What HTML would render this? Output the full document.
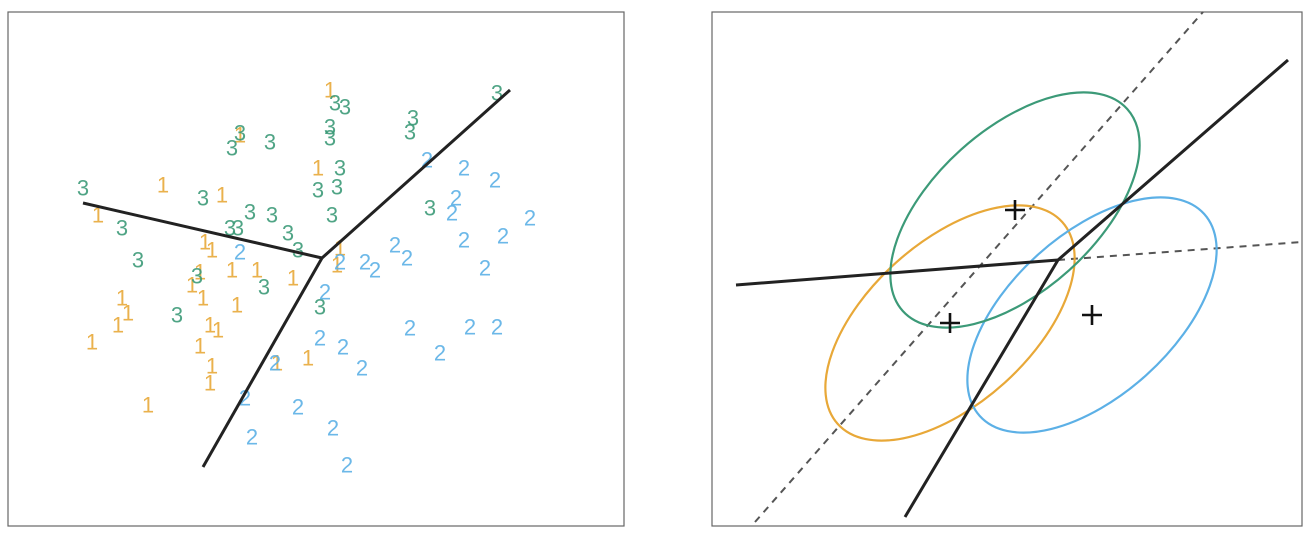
<!DOCTYPE html>
<html><head><meta charset="utf-8"><style>
html,body{margin:0;padding:0;background:#fff;}
svg{display:block;font-family:"Liberation Sans",sans-serif;}
</style></head><body>
<svg id="fig" width="1312" height="536" viewBox="0 0 1312 536">
<rect x="8" y="12" width="616" height="514" fill="#fff" stroke="#666" stroke-width="1.2"/>
<rect x="712" y="12" width="590" height="514" fill="#fff" stroke="#666" stroke-width="1.2"/>
<g id="left"></g>
<g id="right"></g>
</svg>
<script>
// Left panel data
const class1X=[32.2,23.2,15.5,21.4,9.0,31.0,19.7,20.4,22.4,24.9,28.5,19.2,18.4,19.5,11.4,12.0,11.0,8.4,22.9,20.2,21.0,19.2,20.4,20.2,14.0,26.9,30.0,32.9,33.2];
const class1Y=[43.6,39.1,34.1,33.1,31.1,35.8,28.4,27.6,25.6,25.6,24.8,25.4,24.1,22.8,22.8,21.3,20.1,18.4,22.1,20.1,19.6,18.0,16.0,14.3,12.1,16.3,16.8,26.1,27.8];
const class3X=[32.7,33.7,23.2,22.4,26.2,32.2,32.2,33.2,31.0,32.9,32.4,40.5,40.2,48.9,7.5,19.5,11.4,24.2,26.4,22.2,23.0,28.0,29.0,13.0,18.9,25.6,16.9,31.2,42.2];
const class3Y=[42.3,41.9,39.3,37.8,38.4,39.9,38.8,35.8,33.6,33.9,31.1,40.8,39.4,43.3,33.8,32.8,29.8,31.4,31.1,29.8,29.8,29.3,27.6,26.6,25.0,23.9,21.1,21.9,31.8];
const class2X=[41.9,45.6,48.7,44.8,44.4,52.2,49.5,45.6,47.7,38.7,39.9,35.7,36.7,23.2,33.2,31.7,31.2,33.5,35.4,40.2,46.2,48.9,43.2,26.7,23.7,29.0,24.4,32.5,33.9];
const class2Y=[36.6,35.8,34.6,32.8,31.3,30.8,29.0,28.6,25.8,28.1,26.8,26.4,25.6,27.4,26.4,23.4,18.8,17.9,15.8,19.8,19.9,19.9,17.3,16.3,12.8,11.9,8.9,9.8,6.1];
const leftJunction=[31.4,26.8];
const leftEnds=[[7.5,32.3],[50.2,43.6],[19.5,5.9]];
// Right panel data
const rightJunction=[34.6,26.6];
const rightEnds=[[2.4,24.1],[57.6,46.6],[19.3,0.9]];
const dashedA=[[4.3,0.4],[49.1,51.4]];
const dashedB=[[34.6,26.6],[59.0,28.4]];
const meansX=[23.8,38.0,30.3];
const meansY=[20.3,21.1,31.6];
const ellA=15.1, ellB=8.1, ellAngle=42;

const NS='http://www.w3.org/2000/svg';
const lx=d=>8+d*10, ly=d=>526-d*10;
const rx=d=>712+d*10, ry=d=>526-d*10;
const colors=['#e8a838','#5cb0e6','#3c9a78'];
function mk(tag,attrs,parent){const e=document.createElementNS(NS,tag);for(const k in attrs)e.setAttribute(k,attrs[k]);parent.appendChild(e);return e;}
const L=document.getElementById('left'), R=document.getElementById('right');

function drawClass(xs,ys,label,color,name){
  for(let i=0;i<xs.length;i++){
    const t=mk('text',{x:lx(xs[i]),y:ly(ys[i]),fill:color,'font-size':22,'text-anchor':'middle','dominant-baseline':'central','fill-opacity':0.9},L);
    
    
    t.textContent=label;
  }
}
drawClass(class1X,class1Y,'1',colors[0],'class-1-point');
drawClass(class3X,class3Y,'3',colors[2],'class-3-point');
drawClass(class2X,class2Y,'2',colors[1],'class-2-point');
leftEnds.forEach(p=>{
  const l=mk('line',{x1:lx(leftJunction[0]),y1:ly(leftJunction[1]),x2:lx(p[0]),y2:ly(p[1]),stroke:'#222','stroke-width':3},L);
  
  
});

// Right panel
function dashed(seg){
  const l=mk('line',{x1:rx(seg[0][0]),y1:ry(seg[0][1]),x2:rx(seg[1][0]),y2:ry(seg[1][1]),stroke:'#555','stroke-width':2,'stroke-dasharray':'7,6'},R);
  
  
}
dashed(dashedA); dashed(dashedB);
for(let i=0;i<meansX.length;i++){
  const e=mk('ellipse',{cx:0,cy:0,rx:ellA*10,ry:ellB*10,fill:'none',stroke:colors[i],'stroke-width':2.2,transform:`translate(${rx(meansX[i])},${ry(meansY[i])}) rotate(${-ellAngle})`},R);
  
  
}
rightEnds.forEach(p=>{
  const l=mk('line',{x1:rx(rightJunction[0]),y1:ry(rightJunction[1]),x2:rx(p[0]),y2:ry(p[1]),stroke:'#222','stroke-width':3},R);
  
  
});
for(let i=0;i<meansX.length;i++){
  const cx=rx(meansX[i]), cy=ry(meansY[i]);
  const g=mk('path',{d:`M${cx-10},${cy}H${cx+10}M${cx},${cy-10}V${cy+10}`,stroke:'#111','stroke-width':2.6},R);
  
  
}
</script>
</body></html>
